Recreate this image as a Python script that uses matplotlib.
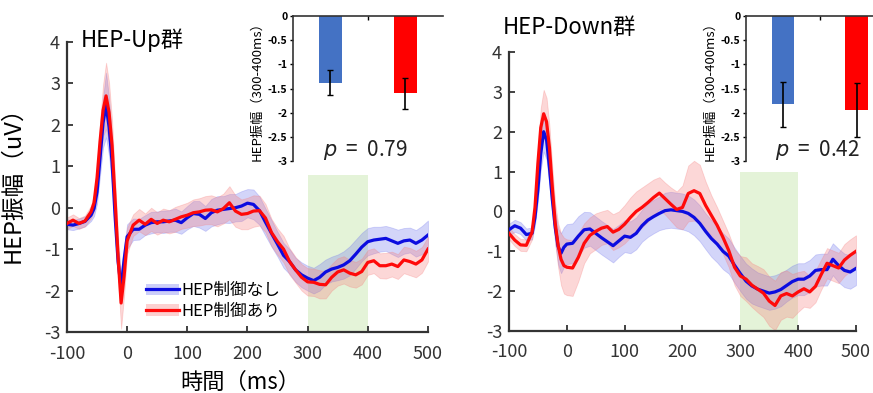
import matplotlib
matplotlib.use('Agg')
import matplotlib.pyplot as plt
import numpy as np
from matplotlib.lines import Line2D
from matplotlib.patches import Patch

plt.rcParams['font.family'] = ['Noto Sans CJK JP', 'DejaVu Sans']
plt.rcParams['axes.unicode_minus'] = False

# time axis (ms): 5 ms steps around the R-peak, 10 ms after
t = np.array([-100, -90, -80, -70, -60, -55, -50, -45, -40, -35, -30, -25, -20, -15, -10, -5, 0]
             + list(range(10, 510, 10)))

# HEP-Up group
up_blue = np.array([
    -0.40, -0.42, -0.38, -0.33, -0.18, -0.02, 0.38, 1.20, 2.05, 2.48, 1.95, 1.10, -0.20, -1.30, -1.94, -1.25, -0.70,
    -0.52, -0.52, -0.42, -0.36, -0.34, -0.34, -0.32, -0.30, -0.36, -0.24,
    -0.14, -0.16, -0.26, -0.12, -0.06, -0.04, -0.02, 0.00, 0.04, 0.11,
    0.08, -0.07, -0.35, -0.62, -0.88, -1.15, -1.30, -1.50, -1.62, -1.70,
    -1.76, -1.68, -1.55, -1.48, -1.44, -1.38, -1.28, -1.12, -0.95, -0.82,
    -0.78, -0.76, -0.74, -0.80, -0.86, -0.80, -0.78, -0.86, -0.78, -0.66])
up_red = np.array([
    -0.38, -0.30, -0.38, -0.32, -0.10, 0.12, 0.72, 1.60, 2.35, 2.70, 2.30, 1.50, 0.20, -1.20, -2.30, -1.65, -0.80,
    -0.42, -0.30, -0.40, -0.28, -0.38, -0.30, -0.34, -0.28, -0.22, -0.18,
    -0.12, -0.10, -0.06, -0.05, -0.10, -0.02, 0.12, -0.08, -0.16, -0.14,
    -0.08, -0.07, -0.25, -0.60, -0.82, -1.00, -1.30, -1.50, -1.68, -1.79,
    -1.80, -1.85, -1.86, -1.68, -1.55, -1.50, -1.58, -1.62, -1.54, -1.32,
    -1.28, -1.40, -1.40, -1.36, -1.42, -1.26, -1.30, -1.36, -1.26, -1.00])
up_blue_sem = np.array([
    0.12, 0.12, 0.12, 0.12, 0.14, 0.18, 0.28, 0.42, 0.60, 0.78, 0.70, 0.55, 0.42, 0.36, 0.32, 0.30, 0.30,
    0.26, 0.25, 0.24, 0.26, 0.25, 0.27, 0.26, 0.28, 0.27, 0.28,
    0.30, 0.32, 0.30, 0.33, 0.34, 0.32, 0.35, 0.33, 0.36, 0.34,
    0.36, 0.34, 0.33, 0.32, 0.30, 0.30, 0.30, 0.29, 0.30, 0.30,
    0.31, 0.32, 0.30, 0.30, 0.31, 0.33, 0.35, 0.35, 0.34, 0.33,
    0.32, 0.30, 0.30, 0.32, 0.33, 0.31, 0.30, 0.32, 0.34, 0.35])
up_red_sem = np.array([
    0.14, 0.14, 0.13, 0.13, 0.15, 0.20, 0.30, 0.45, 0.62, 0.80, 0.72, 0.60, 0.50, 0.50, 0.62, 0.45, 0.32,
    0.26, 0.27, 0.26, 0.28, 0.27, 0.28, 0.28, 0.30, 0.29, 0.30,
    0.32, 0.33, 0.34, 0.35, 0.35, 0.36, 0.40, 0.38, 0.36, 0.38,
    0.38, 0.36, 0.34, 0.33, 0.32, 0.32, 0.32, 0.31, 0.32, 0.33,
    0.33, 0.34, 0.33, 0.32, 0.33, 0.33, 0.32, 0.31, 0.31, 0.30,
    0.30, 0.30, 0.31, 0.30, 0.30, 0.32, 0.33, 0.32, 0.31, 0.30])

# HEP-Down group
down_blue = np.array([
    -0.46, -0.36, -0.42, -0.58, -0.55, -0.15, 0.55, 1.45, 2.00, 1.80, 1.10, 0.30, -0.40, -0.88, -1.05, -0.90, -0.82,
    -0.80, -0.62, -0.46, -0.44, -0.55, -0.66, -0.76, -0.86, -0.74, -0.62,
    -0.65, -0.55, -0.36, -0.22, -0.13, -0.05, 0.02, 0.04, 0.02, 0.00,
    -0.05, -0.15, -0.30, -0.50, -0.68, -0.82, -1.00, -1.12, -1.35, -1.56,
    -1.75, -1.87, -1.95, -2.00, -2.05, -2.02, -1.96, -1.86, -1.76, -1.70,
    -1.70, -1.62, -1.48, -1.46, -1.46, -1.20, -1.36, -1.48, -1.52, -1.43])
down_red = np.array([
    -0.55, -0.72, -0.84, -0.85, -0.52, 0.10, 1.20, 2.10, 2.45, 2.25, 1.60, 0.60, -0.30, -0.85, -1.20, -1.36, -1.40,
    -1.42, -1.15, -0.80, -0.60, -0.50, -0.42, -0.38, -0.52, -0.45, -0.32,
    -0.15, 0.00, 0.10, 0.22, 0.35, 0.46, 0.32, 0.18, 0.05, 0.10,
    0.45, 0.52, 0.45, 0.15, -0.10, -0.35, -0.65, -0.98, -1.40, -1.62,
    -1.70, -1.85, -1.95, -2.05, -2.25, -2.36, -2.12, -2.06, -2.12, -2.02,
    -1.94, -2.02, -1.88, -1.58, -1.30, -1.36, -1.42, -1.22, -1.10, -1.00])
down_blue_sem = np.array([
    0.15, 0.15, 0.15, 0.15, 0.15, 0.20, 0.30, 0.40, 0.50, 0.50, 0.45, 0.40, 0.40, 0.45, 0.50, 0.50, 0.50,
    0.50, 0.50, 0.45, 0.42, 0.42, 0.42, 0.42, 0.42, 0.40, 0.40,
    0.40, 0.40, 0.40, 0.42, 0.42, 0.42, 0.45, 0.45, 0.45, 0.45,
    0.45, 0.45, 0.45, 0.45, 0.46, 0.46, 0.45, 0.44, 0.44, 0.44,
    0.44, 0.44, 0.42, 0.42, 0.42, 0.42, 0.42, 0.40, 0.40, 0.40,
    0.40, 0.40, 0.40, 0.40, 0.40, 0.40, 0.42, 0.42, 0.42, 0.42])
down_red_sem = np.array([
    0.15, 0.15, 0.15, 0.15, 0.18, 0.25, 0.35, 0.50, 0.60, 0.60, 0.55, 0.50, 0.50, 0.55, 0.65, 0.70, 0.70,
    0.70, 0.60, 0.50, 0.45, 0.45, 0.42, 0.42, 0.45, 0.45, 0.48,
    0.50, 0.50, 0.50, 0.48, 0.45, 0.40, 0.40, 0.42, 0.45, 0.55,
    0.70, 0.75, 0.72, 0.60, 0.50, 0.45, 0.42, 0.42, 0.45, 0.50,
    0.55, 0.55, 0.58, 0.60, 0.62, 0.62, 0.60, 0.58, 0.55, 0.50,
    0.45, 0.40, 0.40, 0.38, 0.38, 0.38, 0.38, 0.40, 0.40, 0.40])

# mean amplitude 300-400 ms (inset bars)
bar_pos = [1, 2]
up_bar = [-1.38, -1.60]
up_bar_err = [0.26, 0.32]
down_bar = [-1.83, -1.95]
down_bar_err = [0.47, 0.56]
p_up = '0.79'
p_down = '0.42'

labels = ['HEP制御なし', 'HEP制御あり']
line_cols = ['#0c0ce0', '#ff0a0a']
band_cols = ['#6f74ee', '#f77b7b']
bar_cols = ['#4472c4', '#ff0000']
win = (300, 400)

fig = plt.figure(figsize=(8.73, 3.93), dpi=100)


def main_panel(rect, blue, bsem, red, rsem, win_top):
    ax = fig.add_axes(rect)
    ax.axvspan(win[0], win[1], ymin=0, ymax=(win_top + 3) / 7, color='#e4f3d8', lw=0, zorder=0)
    ax.fill_between(t, blue - bsem, blue + bsem, color=band_cols[0], alpha=0.3, lw=0.6, zorder=1)
    ax.fill_between(t, red - rsem, red + rsem, color=band_cols[1], alpha=0.3, lw=0.6, zorder=1)
    ax.plot(t, blue, color=line_cols[0], lw=2.3, zorder=3)
    ax.plot(t, red, color=line_cols[1], lw=2.3, zorder=4)
    ax.set_xlim(-100, 500)
    ax.set_ylim(-3, 4)
    ax.set_xticks(range(-100, 501, 100))
    ax.set_yticks(range(-3, 5))
    ax.tick_params(direction='in', length=4, width=1.3, labelsize=13, colors='#333333',
                   labelcolor='#333333')
    ax.tick_params(axis='x', pad=9)
    ax.tick_params(axis='y', pad=5)
    for s in ['top', 'right']:
        ax.spines[s].set_visible(False)
    for s in ['left', 'bottom']:
        ax.spines[s].set_linewidth(1.6)
        ax.spines[s].set_color('#333333')
    return ax


def inset(rect, means, errs, p):
    ax = fig.add_axes(rect)
    ax.bar(bar_pos, means, width=0.31, color=bar_cols, zorder=2)
    ax.errorbar(bar_pos, means, yerr=errs, fmt='none', ecolor='black', elinewidth=1.2,
                capsize=2, capthick=1.0, zorder=3)
    ax.set_xlim(0.5, 2.5)
    ax.set_ylim(-3, 0)
    ax.set_yticks(np.arange(-3, 0.01, 0.5))
    ax.set_yticklabels(['-3', '-2.5', '-2', '-1.5', '-1', '-0.5', '0'], fontweight='bold')
    ax.set_xticks([1.5])
    ax.set_xticklabels([''])
    ax.xaxis.set_ticks_position('top')
    ax.tick_params(axis='x', direction='in', length=3, width=1)
    ax.tick_params(axis='y', direction='out', length=2, width=1, labelsize=7.5, pad=2)
    ax.spines['bottom'].set_visible(False)
    ax.spines['right'].set_visible(False)
    for s in ['left', 'top']:
        ax.spines[s].set_linewidth(1.2)
        ax.spines[s].set_color('#333333')
    ax.patch.set_alpha(0)
    ax.set_ylabel('HEP振幅（300-400ms）', fontsize=9.5, labelpad=3)
    ax.text(1.46, -2.78, '$p$  =  ' + p, fontsize=15, ha='center', va='center', color='#222222')
    return ax


ax1 = main_panel([0.0767, 0.1552, 0.4135, 0.7379], up_blue, up_blue_sem, up_red, up_red_sem, 0.8)
ax1.set_ylabel('HEP振幅（uV）', fontsize=17)
ax1.yaxis.set_label_coords(-0.118, 0.53)
ax1.set_xlabel('時間（ms）', fontsize=16)
ax1.xaxis.set_label_coords(0.48, -0.135)

handles = [(Patch(facecolor=band_cols[i], alpha=0.35, lw=0),
            Line2D([], [], color=line_cols[i], lw=2.3)) for i in range(2)]
ax1.legend(handles, labels, loc='lower left', bbox_to_anchor=(0.2, 0.02), frameon=False,
           fontsize=12, handlelength=2.0, handletextpad=0.15, labelspacing=0.2,
           borderaxespad=0)

ax2 = main_panel([0.5830, 0.1578, 0.3975, 0.7099], down_blue, down_blue_sem, down_red, down_red_sem, 1.0)

inset([0.3356, 0.5903, 0.1718, 0.369], up_bar, up_bar_err, p_up)
inset([0.8545, 0.5903, 0.1695, 0.369], down_bar, down_bar_err, p_down)

fig.text(81 / 873, 1 - 40 / 393, 'HEP-Up群', fontsize=16, va='center', ha='left')
fig.text(503 / 873, 1 - 27 / 393, 'HEP-Down群', fontsize=16, va='center', ha='left')

plt.savefig('out.png', dpi=100)
